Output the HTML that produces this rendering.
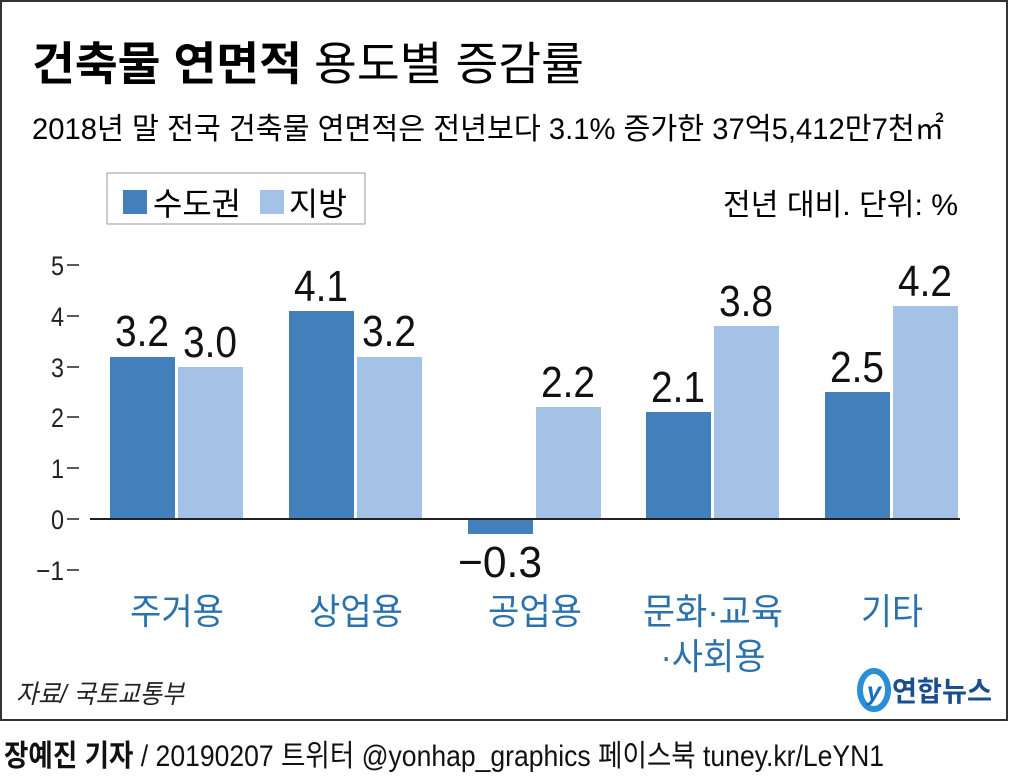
<!DOCTYPE html>
<html><head><meta charset="utf-8"><style>
html,body{margin:0;padding:0;background:#fff;}
svg{display:block;font-family:"Liberation Sans","Noto Sans CJK KR","NanumGothic",sans-serif;}
</style></head><body>
<svg width="1010" height="777" viewBox="0 0 1010 777" xmlns="http://www.w3.org/2000/svg">
<rect x="1" y="1" width="1006" height="719" fill="#fff" stroke="#333" stroke-width="2"/>
<text x="32" y="80" font-size="46" font-weight="bold" textLength="270" lengthAdjust="spacingAndGlyphs">건축물 연면적</text>
<text x="314" y="80" font-size="46" textLength="270" lengthAdjust="spacingAndGlyphs">용도별 증감률</text>
<text x="32" y="139" font-size="30" textLength="912" lengthAdjust="spacingAndGlyphs">2018년 말 전국 건축물 연면적은 전년보다 3.1% 증가한 37억5,412만7천㎡</text>
<rect x="107" y="173" width="258" height="51" fill="#fff" stroke="#999" stroke-width="1"/>
<rect x="123" y="190" width="24" height="24" fill="#4380bb"/>
<text x="153" y="215" font-size="32" textLength="88" lengthAdjust="spacingAndGlyphs">수도권</text>
<rect x="260" y="190" width="24" height="24" fill="#a3c2e6"/>
<text x="289" y="215" font-size="32" textLength="58" lengthAdjust="spacingAndGlyphs">지방</text>
<text x="958" y="215" font-size="30" text-anchor="end" textLength="235" lengthAdjust="spacingAndGlyphs">전년 대비. 단위: %</text>
<g font-size="27" fill="#222" text-anchor="end">
<text x="64" y="275" textLength="13" lengthAdjust="spacingAndGlyphs">5</text><text x="64" y="326" textLength="13" lengthAdjust="spacingAndGlyphs">4</text><text x="64" y="377" textLength="13" lengthAdjust="spacingAndGlyphs">3</text><text x="64" y="427" textLength="13" lengthAdjust="spacingAndGlyphs">2</text><text x="64" y="478" textLength="13" lengthAdjust="spacingAndGlyphs">1</text><text x="64" y="529" textLength="13" lengthAdjust="spacingAndGlyphs">0</text><text x="64" y="580" textLength="28" lengthAdjust="spacingAndGlyphs">−1</text>
</g>
<g stroke="#222" stroke-width="1.5">
<line x1="67" y1="265" x2="79" y2="265"/><line x1="67" y1="316" x2="79" y2="316"/><line x1="67" y1="367" x2="79" y2="367"/><line x1="67" y1="417" x2="79" y2="417"/><line x1="67" y1="468" x2="79" y2="468"/><line x1="67" y1="519" x2="79" y2="519"/><line x1="67" y1="570" x2="79" y2="570"/>
</g>
<g fill="#4380bb">
<rect x="110" y="357" width="65" height="162"/>
<rect x="289" y="311" width="65" height="208"/>
<rect x="468" y="519" width="65" height="15"/>
<rect x="646" y="412" width="65" height="107"/>
<rect x="825" y="392" width="65" height="127"/>
</g>
<g fill="#a3c2e6">
<rect x="178" y="367" width="65" height="152"/>
<rect x="357" y="357" width="65" height="162"/>
<rect x="536" y="407" width="65" height="112"/>
<rect x="714" y="326" width="65" height="193"/>
<rect x="893" y="306" width="65" height="213"/>
</g>
<line x1="90" y1="519" x2="960" y2="519" stroke="#222" stroke-width="2"/>
<g font-size="44" text-anchor="middle" fill="#111">
<text x="142" y="346" textLength="54" lengthAdjust="spacingAndGlyphs">3.2</text><text x="210" y="357" textLength="54" lengthAdjust="spacingAndGlyphs">3.0</text>
<text x="321" y="301" textLength="54" lengthAdjust="spacingAndGlyphs">4.1</text><text x="389" y="346" textLength="54" lengthAdjust="spacingAndGlyphs">3.2</text>
<text x="500" y="577" textLength="84" lengthAdjust="spacingAndGlyphs">−0.3</text><text x="568" y="397" textLength="54" lengthAdjust="spacingAndGlyphs">2.2</text>
<text x="678" y="402" textLength="54" lengthAdjust="spacingAndGlyphs">2.1</text><text x="746" y="316" textLength="54" lengthAdjust="spacingAndGlyphs">3.8</text>
<text x="857" y="382" textLength="54" lengthAdjust="spacingAndGlyphs">2.5</text><text x="925" y="296" textLength="54" lengthAdjust="spacingAndGlyphs">4.2</text>
</g>
<g font-size="36" text-anchor="middle" fill="#2b72ad">
<text x="177" y="624" textLength="94" lengthAdjust="spacingAndGlyphs">주거용</text>
<text x="356" y="624" textLength="94" lengthAdjust="spacingAndGlyphs">상업용</text>
<text x="535" y="624" textLength="94" lengthAdjust="spacingAndGlyphs">공업용</text>
<text x="713" y="624" textLength="140" lengthAdjust="spacingAndGlyphs">문화·교육</text>
<text x="713" y="669" textLength="105" lengthAdjust="spacingAndGlyphs">·사회용</text>
<text x="892" y="624" textLength="62" lengthAdjust="spacingAndGlyphs">기타</text>
</g>
<text x="16" y="703" font-size="26" font-style="italic" fill="#222" textLength="168" lengthAdjust="spacingAndGlyphs">자료/ 국토교통부</text>
<ellipse cx="874" cy="690" rx="14" ry="19" fill="none" stroke="#2a8fd6" stroke-width="6"/>
<text x="874" y="700" font-size="26" font-style="italic" font-weight="bold" fill="#1b6fbf" text-anchor="middle">y</text>
<text x="892" y="701" font-size="28" font-weight="bold" fill="#1a4f8f" textLength="100" lengthAdjust="spacingAndGlyphs">연합뉴스</text>
<text x="4" y="766" font-size="30" fill="#111" textLength="880" lengthAdjust="spacingAndGlyphs"><tspan font-weight="bold">장예진 기자</tspan> / 20190207 트위터 @yonhap_graphics  페이스북 tuney.kr/LeYN1</text>
</svg>
</body></html>
